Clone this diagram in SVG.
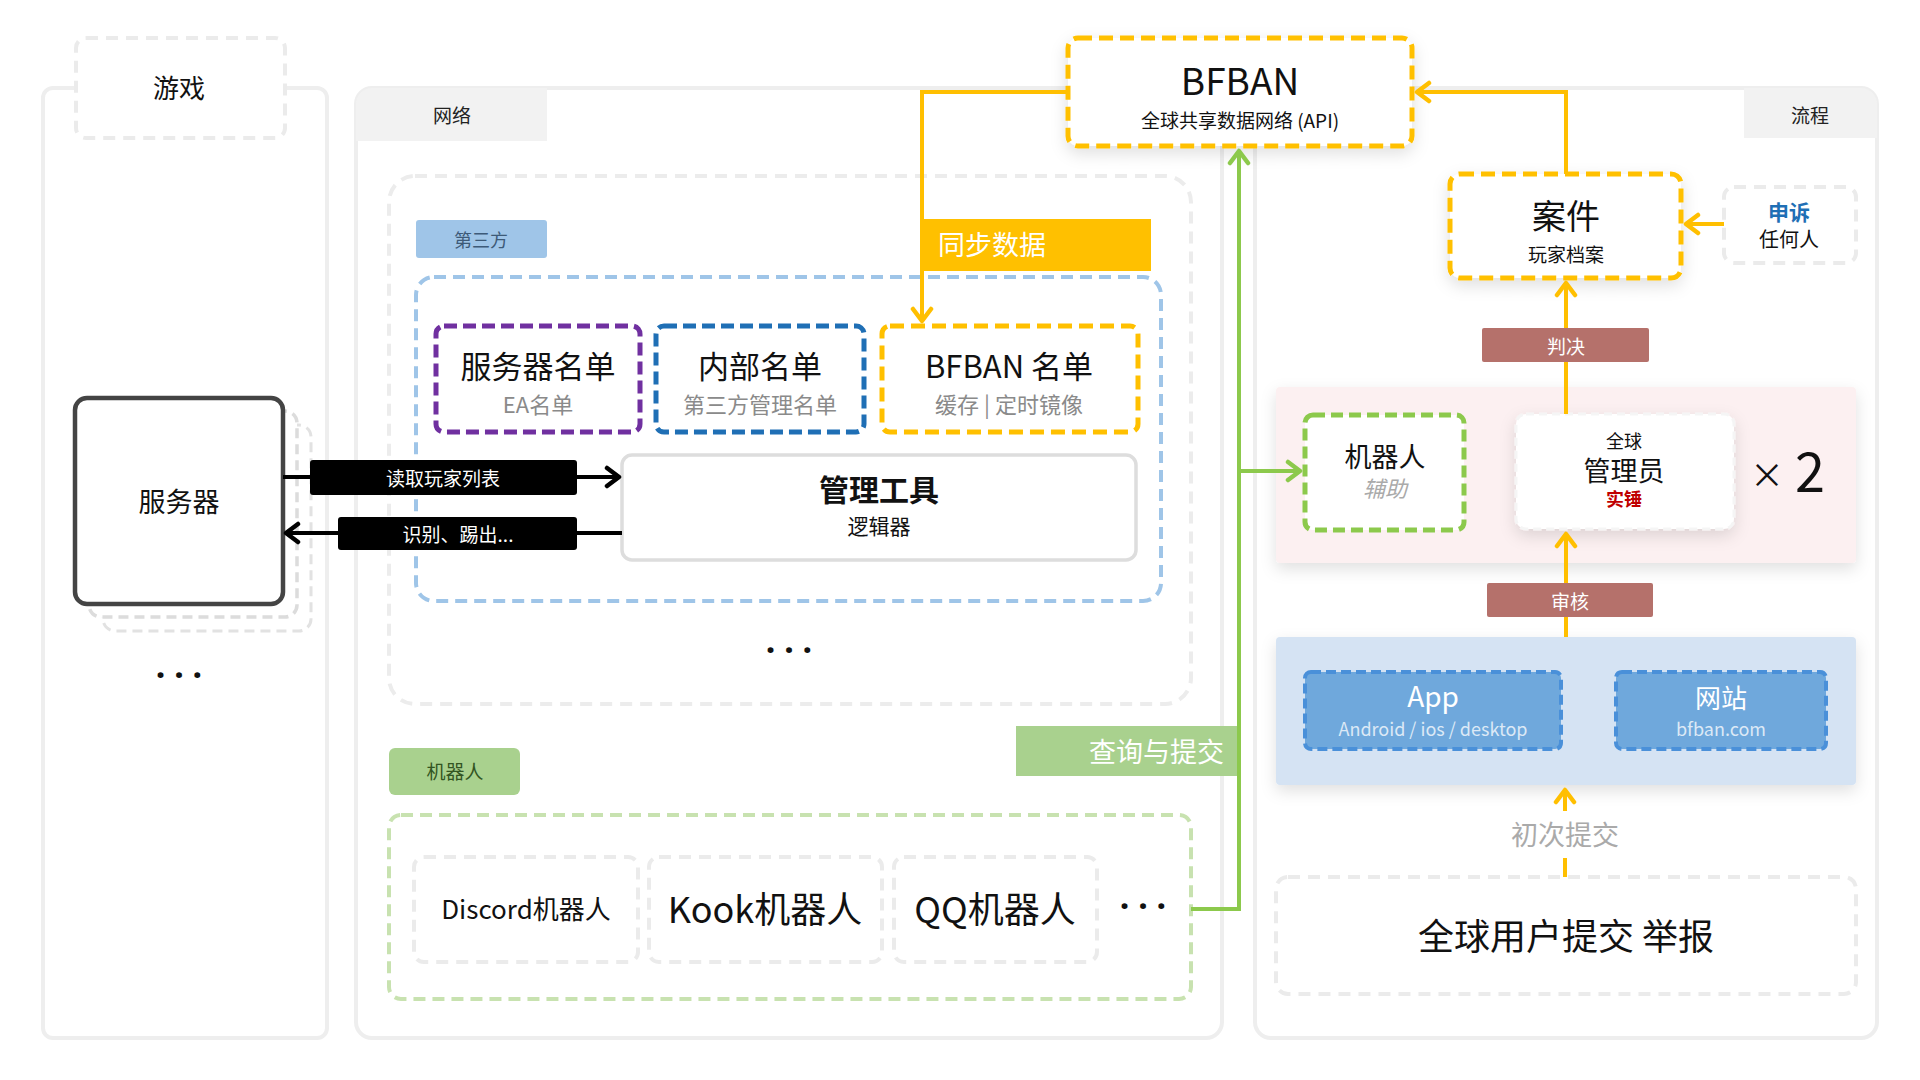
<svg xmlns="http://www.w3.org/2000/svg" width="1920" height="1080" viewBox="0 0 1920 1080">
<defs>
<style>
text{font-family:"Noto Sans CJK SC","Noto Sans",sans-serif;text-anchor:middle;dominant-baseline:central}
.dots{font-family:"Noto Sans",sans-serif;font-size:34px;font-weight:bold;fill:#111}
.panel{fill:#fff;stroke:#eeeeee;stroke-width:4}
.tab{fill:#f2f2f2}
.gdash{fill:#fff;stroke:#ebebeb;stroke-width:4;stroke-dasharray:12 8}
.ydash{fill:#fff;stroke:#ffc000;stroke-width:5;stroke-dasharray:14 7}
.sub{fill:#8a8a8a}
.lbl{fill:#fff}
.ylink{fill:none;stroke:#ffbf00;stroke-width:4}
.glink{fill:none;stroke:#8cc94c;stroke-width:4}
.blink{fill:none;stroke:#000;stroke-width:4}
</style>
<filter id="sh" x="-20%" y="-20%" width="140%" height="150%"><feDropShadow dx="0" dy="6" stdDeviation="8" flood-color="#000" flood-opacity="0.12"/></filter>
<marker id="ab" viewBox="0 0 18 24" refX="16" refY="12" markerWidth="18" markerHeight="24" markerUnits="userSpaceOnUse" orient="auto"><path d="M3,3 L15,12 L3,21" fill="none" stroke="#000" stroke-width="4.5" stroke-linecap="round" stroke-linejoin="round"/></marker>
<marker id="ay" viewBox="0 0 18 24" refX="16" refY="12" markerWidth="18" markerHeight="24" markerUnits="userSpaceOnUse" orient="auto"><path d="M3,3 L15,12 L3,21" fill="none" stroke="#ffbf00" stroke-width="4.5" stroke-linecap="round" stroke-linejoin="round"/></marker>
<marker id="ag" viewBox="0 0 18 24" refX="16" refY="12" markerWidth="18" markerHeight="24" markerUnits="userSpaceOnUse" orient="auto"><path d="M3,3 L15,12 L3,21" fill="none" stroke="#8cc94c" stroke-width="4.5" stroke-linecap="round" stroke-linejoin="round"/></marker>
</defs>
<rect width="1920" height="1080" fill="#fff"/>

<!-- Game panel -->
<g id="panel-game">
<rect class="panel" x="43" y="88" width="284" height="950" rx="10"/>
<rect class="gdash" x="76" y="38" width="209" height="100" rx="10"/>
<text x="179" y="86" font-size="26" fill="#111">游戏</text>
</g>
<g id="node-server">
<rect x="103" y="425" width="208" height="206" rx="12" fill="#fff" stroke="#e2e2e2" stroke-width="3" stroke-dasharray="10 6"/>
<rect x="89" y="411" width="208" height="206" rx="12" fill="#fff" stroke="#dcdcdc" stroke-width="3.5" stroke-dasharray="10 6"/>
<rect x="75" y="398" width="208" height="206" rx="12" fill="#fff" stroke="#444" stroke-width="4.5"/>
<text x="179" y="500" font-size="27" fill="#111">服务器</text>
</g>
<text class="dots" x="179" y="674">· · ·</text>

<!-- Network panel -->
<g id="panel-network">
<rect class="panel" x="356" y="88" width="866" height="950" rx="16"/>
<path class="tab" d="M372,88 H547 V141 H356 V104 A16,16 0 0 1 372,88 Z"/>
<text x="452" y="114" font-size="19" fill="#222">网络</text>
<rect x="389" y="176" width="802" height="528" rx="26" fill="#fff" stroke="#ececec" stroke-width="4" stroke-dasharray="12 8"/>
<rect x="416" y="220" width="131" height="38" rx="3" fill="#9fc5e8"/>
<text x="481" y="239" font-size="18" fill="#3d5a78">第三方</text>
<rect x="416" y="277" width="745" height="324" rx="18" fill="#fff" stroke="#9fc5e8" stroke-width="4" stroke-dasharray="12 7"/>
<text class="dots" x="789" y="649">· · ·</text>
</g>
<g id="node-serverlist">
<rect x="436" y="326" width="204" height="106" rx="8" fill="#fff" stroke="#7030a0" stroke-width="5" stroke-dasharray="13 6"/>
<text x="538" y="364" font-size="31" fill="#111">服务器名单</text>
<text x="538" y="403" font-size="22" class="sub">EA名单</text>
</g>
<g id="node-internallist">
<rect x="656" y="326" width="208" height="106" rx="8" fill="#fff" stroke="#1f6fb5" stroke-width="5" stroke-dasharray="13 6"/>
<text x="760" y="364" font-size="31" fill="#111">内部名单</text>
<text x="760" y="403" font-size="22" class="sub">第三方管理名单</text>
</g>
<g id="node-bfbanlist">
<rect class="ydash" x="882" y="326" width="256" height="106" rx="8"/>
<text x="1009" y="364" font-size="31" fill="#111">BFBAN 名单</text>
<text x="1009" y="403" font-size="22" class="sub">缓存 | 定时镜像</text>
</g>
<g id="node-tool">
<rect x="622" y="455" width="514" height="105" rx="10" fill="#fff" stroke="#dddddd" stroke-width="3.5"/>
<text x="879" y="488" font-size="30" font-weight="bold" fill="#111">管理工具</text>
<text x="879" y="525" font-size="21" fill="#111">逻辑器</text>
</g>
<g id="group-bots">
<rect x="389" y="748" width="131" height="47" rx="6" fill="#a9d18e"/>
<text x="455" y="770" font-size="19" fill="#335522">机器人</text>
<rect x="389" y="815" width="802" height="184" rx="12" fill="#fff" stroke="#c8e2b0" stroke-width="4" stroke-dasharray="12 7"/>
</g>
<g id="node-discord">
<rect class="gdash" x="414" y="857" width="224" height="105" rx="10" stroke="#f0f0f0"/>
<text x="526" y="907" font-size="26" fill="#111">Discord机器人</text>
</g>
<g id="node-kook">
<rect class="gdash" x="649" y="857" width="233" height="105" rx="10" stroke="#f0f0f0"/>
<text x="765" y="907" font-size="36" fill="#111">Kook机器人</text>
</g>
<g id="node-qq">
<rect class="gdash" x="894" y="857" width="203" height="105" rx="10" stroke="#f0f0f0"/>
<text x="995" y="907" font-size="36" fill="#111">QQ机器人</text>
</g>
<text class="dots" x="1143" y="905">· · ·</text>

<!-- Process panel -->
<g id="panel-process">
<rect class="panel" x="1255" y="88" width="622" height="950" rx="16"/>
<path class="tab" d="M1744,88 H1861 A16,16 0 0 1 1877,104 V138 H1744 Z"/>
<text x="1810" y="114" font-size="19" fill="#222">流程</text>
<rect x="1276" y="387" width="580" height="176" rx="4" fill="#fcf0f1" filter="url(#sh)"/>
<rect x="1276" y="637" width="580" height="148" rx="4" fill="#d5e3f3" filter="url(#sh)"/>
</g>

<g id="node-bfban">
<rect class="ydash" x="1068" y="38" width="344" height="108" rx="10" filter="url(#sh)"/>
<text x="1240" y="79" font-size="37" fill="#111">BFBAN</text>
<text x="1240" y="119" font-size="19" fill="#111">全球共享数据网络 (API)</text>
</g>
<g id="node-case">
<rect class="ydash" x="1450" y="174" width="231" height="104" rx="10" filter="url(#sh)"/>
<text x="1566" y="214" font-size="34" fill="#111">案件</text>
<text x="1566" y="253" font-size="19" fill="#111">玩家档案</text>
</g>
<g id="node-appeal">
<rect class="gdash" x="1724" y="187" width="132" height="76" rx="10" stroke="#eeeeee"/>
<text x="1789" y="211" font-size="21" font-weight="bold" fill="#1f6fb5">申诉</text>
<text x="1789" y="238" font-size="20" fill="#111">任何人</text>
</g>
<g id="node-robot">
<rect x="1305" y="415" width="159" height="115" rx="8" fill="#fff" stroke="#8cc94c" stroke-width="5" stroke-dasharray="12 6"/>
<text x="1385" y="455" font-size="27" fill="#111">机器人</text>
<text x="1385" y="487" font-size="22" font-style="italic" fill="#aaaaaa">辅助</text>
</g>
<g id="node-admin">
<rect x="1516" y="414" width="218" height="115" rx="10" fill="#fff" stroke="#f5f5f5" stroke-width="3" stroke-dasharray="8 5" filter="url(#sh)"/>
<text x="1624" y="440" font-size="18" fill="#111">全球</text>
<text x="1624" y="469" font-size="27" fill="#111">管理员</text>
<text x="1624" y="498" font-size="18" font-weight="bold" fill="#c00000">实锤</text>
</g>
<text x="1767" y="473" font-size="34" fill="#111">×</text>
<text x="1810" y="468" font-size="54" fill="#111">2</text>
<g id="node-app">
<rect x="1305" y="672" width="256" height="77" rx="6" fill="#6fa8dc" stroke="#4a90d9" stroke-width="4" stroke-dasharray="10 5"/>
<text x="1433" y="695" font-size="28" fill="#fff">App</text>
<text x="1433" y="728" font-size="18" fill="#dce9f6">Android / ios / desktop</text>
</g>
<g id="node-web">
<rect x="1616" y="672" width="210" height="77" rx="6" fill="#6fa8dc" stroke="#4a90d9" stroke-width="4" stroke-dasharray="10 5"/>
<text x="1721" y="696" font-size="26" fill="#fff">网站</text>
<text x="1721" y="728" font-size="18" fill="#dce9f6">bfban.com</text>
</g>
<g id="node-report">
<rect class="gdash" x="1276" y="877" width="580" height="117" rx="12" stroke="#eeeeee"/>
<text x="1566" y="934" font-size="36" fill="#111">全球用户提交 举报</text>
</g>

<!-- Connectors -->
<g id="connectors">
<path class="blink" d="M283,477 H620" marker-end="url(#ab)"/>
<path class="blink" d="M622,533 H285" marker-end="url(#ab)"/>
<rect x="310" y="460" width="267" height="35" rx="3" fill="#000"/>
<text x="443" y="477" font-size="19" class="lbl">读取玩家列表</text>
<rect x="338" y="517" width="239" height="33" rx="3" fill="#000"/>
<text x="458" y="533" font-size="19" class="lbl">识别、踢出...</text>

<path class="ylink" d="M1068,92 H922 V322" marker-end="url(#ay)"/>
<rect x="920" y="219" width="231" height="52" fill="#ffc000"/>
<text x="938" y="243" font-size="27" class="lbl" style="text-anchor:start">同步数据</text>

<path class="ylink" d="M1566,174 V92 H1416" marker-end="url(#ay)"/>
<path class="ylink" d="M1724,224 H1685" marker-end="url(#ay)"/>
<path class="ylink" d="M1566,414 V282" marker-end="url(#ay)"/>
<rect x="1482" y="328" width="167" height="34" rx="2" fill="#b5716b"/>
<text x="1566" y="345" font-size="19" class="lbl">判决</text>
<path class="ylink" d="M1566,637 V533" marker-end="url(#ay)"/>
<rect x="1487" y="583" width="166" height="34" rx="2" fill="#b5716b"/>
<text x="1570" y="600" font-size="19" class="lbl">审核</text>
<path class="ylink" d="M1565,877 V858"/>
<path class="ylink" d="M1565,811 V789" marker-end="url(#ay)"/>
<text x="1565" y="833" font-size="27" fill="#aaaaaa">初次提交</text>

<path class="glink" d="M1191,909 H1239 V150" marker-end="url(#ag)"/>
<path class="glink" d="M1239,471 H1301" marker-end="url(#ag)"/>
<rect x="1016" y="726" width="221" height="50" fill="#a9d18e"/>
<text x="1224" y="750" font-size="27" class="lbl" style="text-anchor:end">查询与提交</text>
</g>
</svg>
